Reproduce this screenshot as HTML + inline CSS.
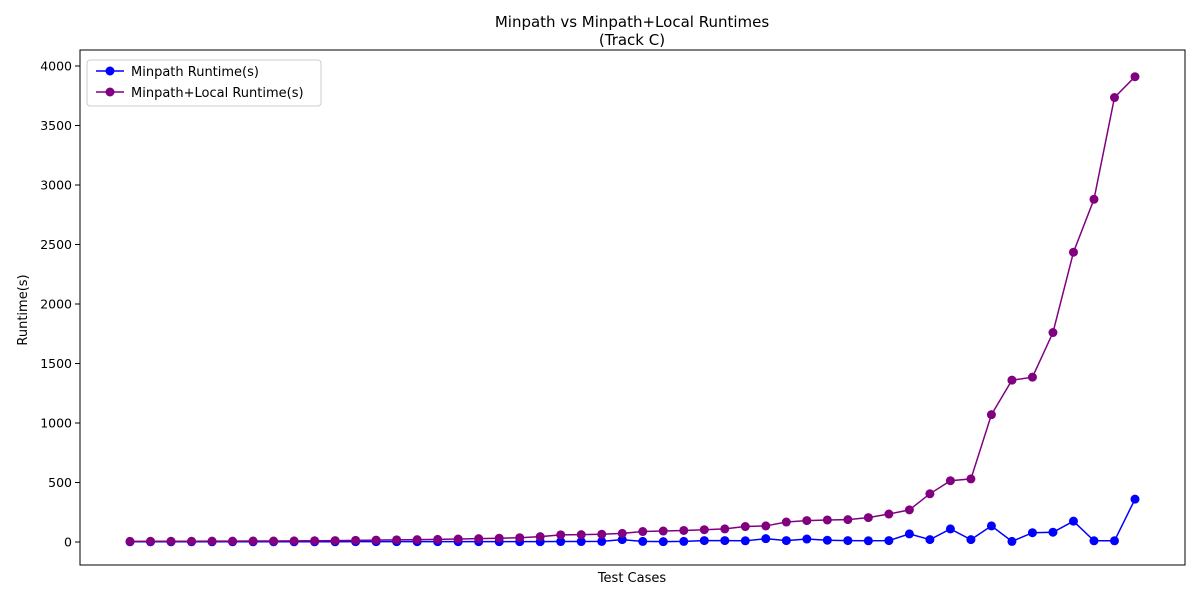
<!DOCTYPE html>
<html><head><meta charset="utf-8"><style>
body{margin:0;background:#fff;font-family:"Liberation Sans","DejaVu Sans",sans-serif}
svg text{font-family:"DejaVu Sans","Liberation Sans",sans-serif;fill:#000}
</style></head><body>
<svg id="chart" width="1200" height="600" xmlns="http://www.w3.org/2000/svg">
<rect width="1200" height="600" fill="#fff"/>
<text x="632" y="27" font-size="15" text-anchor="middle">Minpath vs Minpath+Local Runtimes</text>
<text x="632" y="45" font-size="15" text-anchor="middle">(Track C)</text>
<g id="ticks"></g>
<g id="series"></g>
<rect x="80" y="50" width="1105" height="515" fill="none" stroke="#000" stroke-width="1"/>
<text x="632" y="582" font-size="13" text-anchor="middle">Test Cases</text>
<text x="27" y="310" font-size="13" text-anchor="middle" transform="rotate(-90 27 310)">Runtime(s)</text>
<g>
<rect x="87" y="60" width="234" height="46" fill="#fff" stroke="#ccc" rx="3"/>
<g>
<line x1="96" y1="71" x2="124" y2="71" stroke="#0000ff" stroke-width="1.5"/><circle cx="110" cy="71" r="4.5" fill="#0000ff"/>
<text x="131" y="76" font-size="13">Minpath Runtime(s)</text></g>
<g>
<line x1="96" y1="92" x2="124" y2="92" stroke="#800080" stroke-width="1.5"/><circle cx="110" cy="92" r="4.5" fill="#800080"/>
<text x="131" y="97" font-size="13">Minpath+Local Runtime(s)</text></g>
</g>
</svg>
<script>
const minpath = [2,2,2,2,2,2,2,2,2,2,2,3,3,3,3,3,3,3,3,3,3,4,4,5,20,5,3,5,12,12,10,28,12,25,15,12,10,12,68,20,110,20,135,5,78,82,175,10,10,360];
const minpathLocal = [5,6,6,6,7,7,8,8,9,10,12,14,16,18,20,22,25,28,32,36,45,60,62,65,72,88,92,97,103,110,130,135,168,180,185,188,205,235,270,405,515,530,1070,1360,1385,1760,2435,2880,3735,3910];
const yTicks = [0,500,1000,1500,2000,2500,3000,3500,4000];
const NS="http://www.w3.org/2000/svg";
function xs(i){return 130 + i*(1135-130)/49;}
function ys(v){return 542 - v*(542-66)/4000;}
const tg=document.getElementById('ticks');
yTicks.forEach(t=>{
 const l=document.createElementNS(NS,'line');
 l.setAttribute('x1',75);l.setAttribute('x2',80);l.setAttribute('y1',ys(t));l.setAttribute('y2',ys(t));l.setAttribute('stroke','#000');
 
 
 tg.appendChild(l);
 const tx=document.createElementNS(NS,'text');
 tx.setAttribute('x',72);tx.setAttribute('y',ys(t)+4.5);tx.setAttribute('font-size','12.5');tx.setAttribute('text-anchor','end');
 tx.textContent=t;
 
 
 tg.appendChild(tx);
});
const sg=document.getElementById('series');
function draw(data,color,name){
 const p=document.createElementNS(NS,'polyline');
 p.setAttribute('points',data.map((v,i)=>xs(i)+','+ys(v)).join(' '));
 p.setAttribute('fill','none');p.setAttribute('stroke',color);p.setAttribute('stroke-width','1.5');
 
 
 sg.appendChild(p);
 data.forEach((v,i)=>{
  const c=document.createElementNS(NS,'circle');
  c.setAttribute('cx',xs(i));c.setAttribute('cy',ys(v));c.setAttribute('r',4.5);c.setAttribute('fill',color);
  
  
  sg.appendChild(c);
 });
}
draw(minpath,'#0000ff','minpath');
draw(minpathLocal,'#800080','minpath-local');
</script>
</body></html>
